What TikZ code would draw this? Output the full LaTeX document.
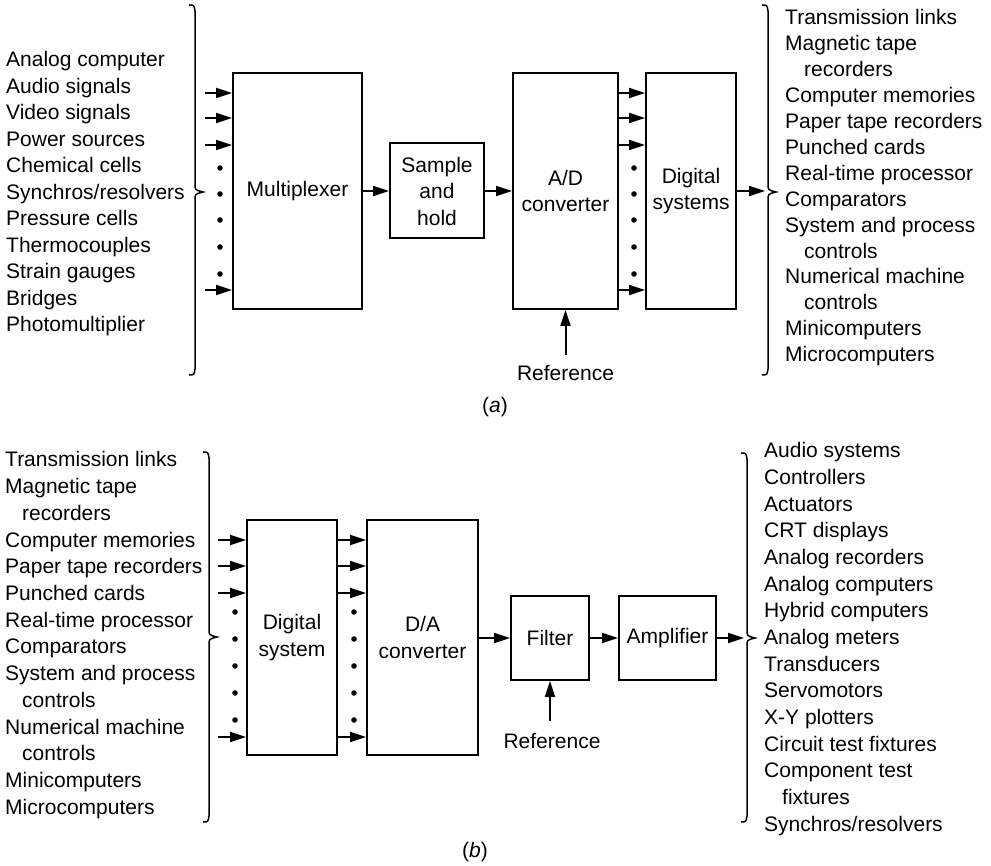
\documentclass[tikz,border=0pt]{standalone}
\usepackage{fontspec}
\setmainfont{Liberation Sans}
\usetikzlibrary{arrows.meta}

% curly brace opening to the right: body x, top y, tip y, bottom y
\newcommand\drawbrace[4]{%
  \draw[brace line] ({#1-6},#2) .. controls ({#1-1},#2) .. (#1,{#2+6})
    -- (#1,{#3-8}) .. controls (#1,{#3-2}) .. ({#1+8},#3)
    .. controls (#1,{#3+2}) .. (#1,{#3+8})
    -- (#1,{#4-6}) .. controls ({#1-1},#4) .. ({#1-6},#4);}

\begin{document}
\begin{tikzpicture}[x=1pt,y=-1pt,
  every node/.style={font=\fontsize{21}{26.5}\selectfont, inner sep=0pt},
  box/.style={draw, line width=2pt, align=center},
  arr/.style={line width=2pt, -{Triangle[length=16pt,width=10pt]}},
  brace line/.style={line width=1.5pt},
  item/.style={anchor=base west},
  dotmark/.style={fill=black}]
\useasboundingbox (0,0) rectangle (991,866);

% ---------------- (a) analog-to-digital chain ----------------
\foreach \t [count=\i from 0] in {Analog computer, Audio signals, Video signals,
  Power sources, Chemical cells, Synchros/resolvers, Pressure cells,
  Thermocouples, Strain gauges, Bridges, Photomultiplier}
  \node[item] (srcA\i) at (6,{67+26.5*\i}) {\t};
\drawbrace{195}{5}{192}{375}

\node[box, minimum width=129pt, minimum height=236pt] (mux) at (297.5,191) {Multiplexer};
\node[box, minimum width=94pt, minimum height=95pt] (sh) at (437,191) {Sample\\and\\hold};
\node[box, minimum width=105pt, minimum height=236pt] (adc) at (565.5,191) {A/D\\converter};
\node[box, minimum width=90pt, minimum height=236pt] (dig) at (691,191) {Digital\\systems};

\foreach \y [count=\i] in {93,118,145,290} {
  \coordinate (ina\i) at (205,\y);
  \draw[arr] (ina\i) -- (ina\i -| mux.west);
  \coordinate (outa\i) at (adc.east |- 0,\y);
  \draw[arr] (outa\i) -- (outa\i -| dig.west);
}
\foreach \y in {168,194,220,247,274} {
  \fill[dotmark] (220,\y) circle (2.8);
  \fill[dotmark] (634,\y) circle (2.8);
}
\draw[arr] (mux.east) -- (mux.east -| sh.west);
\draw[arr] (sh.east) -- (sh.east -| adc.west);

\node (refa) at (565.5,373.5) {Reference};
\coordinate (refaTail) at (565.5,355);
\draw[arr] (refaTail) -- (adc.south);

\coordinate (braceA) at (765,191);
\draw[arr] (dig.east) -- (braceA);
\drawbrace{768}{5}{192}{375}
\foreach \t [count=\i from 0] in {Transmission links, Magnetic tape,
  {\hspace*{19pt}recorders}, Computer memories, Paper tape recorders,
  Punched cards, Real-time processor, Comparators, System and process,
  {\hspace*{19pt}controls}, Numerical machine, {\hspace*{19pt}controls},
  Minicomputers, Microcomputers}
  \node[item] (dstA\i) at (785,{25+25.9*\i}) {\t};

\node (capa) at (495,407) {(\textit{a})};

% ---------------- (b) digital-to-analog chain ----------------
\foreach \t [count=\i from 0] in {Transmission links, Magnetic tape,
  {\hspace*{17pt}recorders}, Computer memories, Paper tape recorders,
  Punched cards, Real-time processor, Comparators, System and process,
  {\hspace*{17pt}controls}, Numerical machine, {\hspace*{17pt}controls},
  Minicomputers, Microcomputers}
  \node[item] (srcB\i) at (5,{467+26.7*\i}) {\t};
\drawbrace{209}{452}{637}{822}

\node[box, minimum width=90pt, minimum height=235pt] (dsys) at (292,637.5) {Digital\\system};
\node[box, minimum width=111pt, minimum height=235pt] (dac) at (422.5,637.5) {D/A\\converter};
\node[box, minimum width=78pt, minimum height=84pt] (filt) at (550,638) {Filter};
\node[box, minimum width=97pt, minimum height=84pt] (amp) at (667.5,638) {Amplifier};

\foreach \y [count=\i] in {540,566,593,737} {
  \coordinate (inb\i) at (218,\y);
  \draw[arr] (inb\i) -- (inb\i -| dsys.west);
  \coordinate (outb\i) at (dsys.east |- 0,\y);
  \draw[arr] (outb\i) -- (outb\i -| dac.west);
}
\foreach \y in {612,639,666,693,720} {
  \fill[dotmark] (235,\y) circle (2.8);
  \fill[dotmark] (354,\y) circle (2.8);
}
\draw[arr] (dac.east |- filt.west) -- (filt.west);
\draw[arr] (filt.east) -- (amp.west);

\node (refb) at (552,741) {Reference};
\coordinate (refbTail) at (550,721);
\draw[arr] (refbTail) -- (filt.south);

\coordinate (braceB) at (744,638);
\draw[arr] (amp.east) -- (braceB);
\drawbrace{747}{453}{638}{822}
\foreach \t [count=\i from 0] in {Audio systems, Controllers, Actuators,
  CRT displays, Analog recorders, Analog computers, Hybrid computers,
  Analog meters, Transducers, Servomotors, X-Y plotters,
  Circuit test fixtures, Component test, {\hspace*{18pt}fixtures},
  Synchros/resolvers}
  \node[item] (dstB\i) at (764,{458+26.65*\i}) {\t};

\node (capb) at (475,852) {(\textit{b})};
\end{tikzpicture}
\end{document}
